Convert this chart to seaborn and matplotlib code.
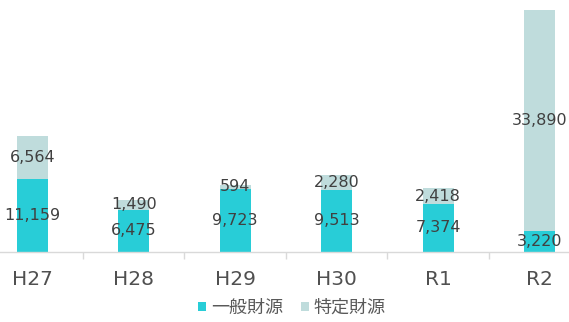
import matplotlib
matplotlib.use("Agg")
import matplotlib.pyplot as plt
import seaborn as sns
import pandas as pd
from matplotlib.ticker import FixedLocator
from matplotlib.patches import Patch

categories = ["H27", "H28", "H29", "H30", "R1", "R2"]
general = [11159, 6475, 9723, 9513, 7374, 3220]
specific = [6564, 1490, 594, 2280, 2418, 33890]
series_names = ["一般財源", "特定財源"]

c_general = "#28CDD7"
c_specific = "#BFDCDC"
text_c = "#404040"

sns.set_theme(style="white")
plt.rcParams["font.family"] = ["Noto Sans CJK JP", "DejaVu Sans"]

df = pd.DataFrame({"cat": categories, "general": general, "specific": specific})
df["total"] = df["general"] + df["specific"]

fig = plt.figure(figsize=(5.69, 3.22), dpi=100)
ax = fig.add_axes([-18.5 / 569, (322 - 252) / 322, 609 / 569, 242 / 322])

sns.barplot(data=df, x="cat", y="total", color=c_specific, width=0.31,
            saturation=1, ax=ax, edgecolor="none")
sns.barplot(data=df, x="cat", y="general", color=c_general, width=0.31,
            saturation=1, ax=ax, edgecolor="none")

ax.set_ylim(0, max(df["total"]))
ax.set_xlim(-0.5, len(categories) - 0.5)
ax.set_xlabel("")
ax.set_ylabel("")
ax.set_yticks([])
for s in ["top", "left", "right"]:
    ax.spines[s].set_visible(False)
ax.spines["bottom"].set_color("#D9D9D9")
ax.spines["bottom"].set_linewidth(1.0)

ax.tick_params(axis="x", which="major", length=0, pad=13, labelsize=14.5, labelcolor="#505050")
for lbl in ax.get_xticklabels():
    lbl.set_family(["DejaVu Sans"])
ax.xaxis.set_minor_locator(FixedLocator([i + 0.5 for i in range(len(categories) - 1)]))
ax.tick_params(axis="x", which="minor", length=5, width=1, color="#D9D9D9", bottom=True)

for i, (g, s) in enumerate(zip(general, specific)):
    ax.text(i, g / 2, f"{g:,}", ha="center", va="center", fontsize=11.5,
            color=text_c, family=["DejaVu Sans"])
    ax.text(i, g + s / 2, f"{s:,}", ha="center", va="center", fontsize=11.5,
            color=text_c, family=["DejaVu Sans"])

handles = [Patch(facecolor=c_general, edgecolor="none"),
           Patch(facecolor=c_specific, edgecolor="none")]
fig.legend(handles, series_names, loc="center", bbox_to_anchor=(292 / 569, 1 - 308 / 322),
           ncol=2, frameon=False, fontsize=13, handlelength=0.45, handleheight=0.45,
           handletextpad=0.25, columnspacing=1.0, labelcolor="#595959")

fig.savefig("out.png", dpi=100)
